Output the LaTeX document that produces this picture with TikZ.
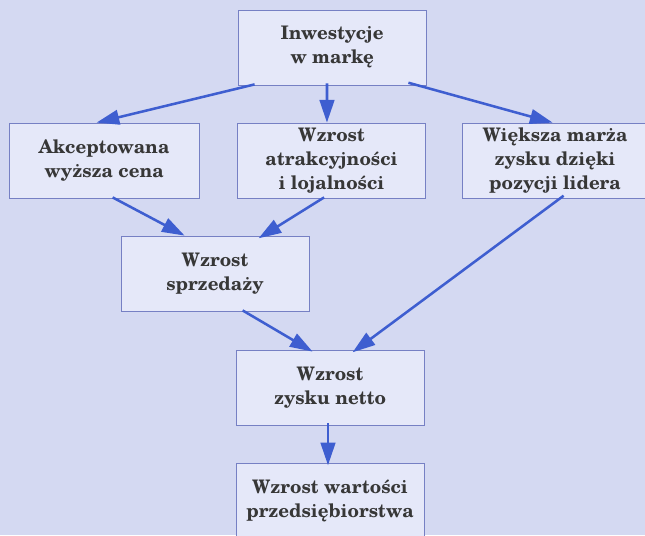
\documentclass[tikz,border=0pt]{standalone}
\usepackage{fontspec}
\setmainfont{texgyreschola}[Extension=.otf,UprightFont=*-regular,BoldFont=*-bold,ItalicFont=*-italic,BoldItalicFont=*-bolditalic]
\usetikzlibrary{arrows.meta}

\begin{document}
\begin{tikzpicture}[x=0.75pt,y=0.75pt,yscale=-1,xscale=1,
  box/.style={draw={rgb, 255:red, 118; green, 128; blue, 196 }, fill={rgb, 255:red, 229; green, 232; blue, 249 }, line width=0.6pt, minimum width=141pt, minimum height=56.25pt, inner sep=0pt, align=center, text={rgb, 255:red, 55; green, 55; blue, 55 }, font=\bfseries\fontsize{14}{18}\selectfont},
  link/.style={draw={rgb, 255:red, 62; green, 94; blue, 208 }, line width=1.9pt, -{Triangle[length=17pt,width=11pt]}}]
%set diagram left start at 0, and has height of 535
\path[use as bounding box] (0,0) rectangle (645,535);
\fill [color={rgb, 255:red, 212; green, 217; blue, 242 }] (0,0) rectangle (645,535);

%Shape: Box [id:inw]
\node [box] (inw) at (332,47.5) {Inwestycje\\w markę};
%Shape: Box [id:akc]
\node [box, minimum width=142.5pt] (akc) at (104,160.5) {Akceptowana\\wyższa cena};
%Shape: Box [id:atr]
\node [box] (atr) at (331.5,160.5) {Wzrost\\atrakcyjności\\i lojalności};
%Shape: Box [id:wie]
\node [box, minimum width=139.5pt] (wie) at (555,160.5) {Większa marża\\zysku dzięki\\pozycji lidera};
%Shape: Box [id:spr]
\node [box] (spr) at (215,273.5) {Wzrost\\sprzedaży};
%Shape: Box [id:zys]
\node [box] (zys) at (330,387.5) {Wzrost\\zysku netto};
%Shape: Box [id:war]
\node [box] (war) at (330,500.5) {Wzrost wartości\\przedsiębiorstwa};

%Straight Lines
\draw [link] ([xshift=12.75pt,yshift=-0.75pt]inw.south west) -- ([xshift=66pt]akc.north west);
\draw [link] ([xshift=-3.75pt,yshift=-1.5pt]inw.south) -- ([xshift=-3.4pt]atr.north);
\draw [link] ([xshift=-13.5pt,yshift=-2pt]inw.south east) -- ([xshift=68.25pt]wie.north west);
\draw [link] ([xshift=78pt,yshift=-0.75pt]akc.south west) -- ([xshift=48pt]spr.north west);
\draw [link] ([xshift=65.25pt,yshift=-0.75pt]atr.south west) -- ([xshift=103.5pt,yshift=2pt]spr.north west);
\draw [link] ([xshift=91.5pt,yshift=-0.75pt]spr.south west) -- ([xshift=57.75pt,yshift=1.5pt]zys.north west);
\draw [link] ([xshift=76.5pt,yshift=-2pt]wie.south west) -- ([xshift=87.75pt,yshift=2pt]zys.north west);
\draw [link] ([xshift=-1.5pt,yshift=-1.5pt]zys.south) -- ([xshift=-1.5pt,yshift=2pt]war.north);

\end{tikzpicture}
\end{document}
